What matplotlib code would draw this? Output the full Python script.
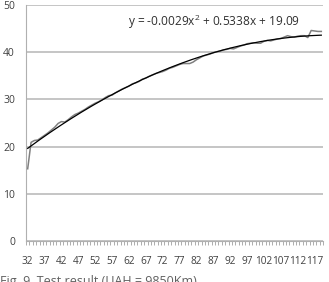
import numpy as np
import matplotlib
matplotlib.use("Agg")
import matplotlib.pyplot as plt

# categories
categories = list(range(32, 120))
# measured series
measured = [15.3, 20.9, 21.3, 21.4, 21.9, 22.4, 22.9, 23.5, 24.1, 24.9,
            25.3, 25.2, 25.7, 26.3, 26.8, 27.1, 27.5, 27.9, 28.4, 28.8,
            29.2, 29.5, 29.9, 30.4, 30.8, 30.9, 31.4, 31.8, 32.2, 32.5,
            32.8, 33.3, 33.5, 33.8, 34.3, 34.5, 34.9, 35.2, 35.5, 35.7,
            35.9, 36.2, 36.6, 36.8, 37.1, 37.4, 37.6, 37.6, 37.6, 37.9,
            38.4, 38.8, 39.2, 39.4, 39.6, 39.9, 40.1, 40.2, 40.5, 40.6,
            40.8, 40.7, 41.0, 41.3, 41.5, 41.8, 41.9, 42.0, 41.9, 41.9,
            42.3, 42.5, 42.4, 42.6, 42.8, 42.9, 43.2, 43.5, 43.3, 43.2,
            43.4, 43.5, 43.5, 43.1, 44.6, 44.5, 44.4, 44.4]
# trendline coefficients (from the chart's equation)
coef_a, coef_b, coef_c = -0.0029, 0.5338, 19.09
y_ticks = [0, 10, 20, 30, 40, 50]
label_every = 5
equation = "y = -0.0029x$^2$ + 0.5338x + 19.09"
caption = "Fig. 9. Test result (UAH = 9850Km)"

plt.rcParams['font.family'] = ['Open Sans', 'DejaVu Sans']
plt.rcParams['mathtext.fontset'] = 'custom'
plt.rcParams['mathtext.rm'] = 'Open Sans'

fig = plt.figure(figsize=(3.29, 2.82), dpi=100)
ax = fig.add_axes([26/329, 1-241/282, 297/329, 236/282])

n = len(categories)
idx = np.arange(1, n + 1)
ax.plot(idx, measured, color='#808080', lw=1.1, zorder=3)
xs = np.linspace(1, n, 300)
ax.plot(xs, coef_a * xs**2 + coef_b * xs + coef_c, color='black', lw=0.9, zorder=4)

ax.set_xlim(0.5, n + 0.5)
ax.set_ylim(0, 50)
ax.set_yticks(y_ticks)
ax.set_yticklabels([str(v) for v in y_ticks])
ax.yaxis.grid(True, color='#c0c0c0', lw=1.3)
ax.set_axisbelow(True)

lab_pos = idx[::label_every]
ax.set_xticks(lab_pos)
ax.set_xticklabels([str(categories[i-1]) for i in lab_pos])
ax.set_xticks(np.arange(0.5, n + 1, 1), minor=True)
ax.tick_params(axis='x', which='major', length=0, pad=11, labelsize=7.2, colors='#404040')
ax.tick_params(axis='x', which='minor', length=3, color='#a0a0a0', width=0.6)
ax.tick_params(axis='y', length=0, pad=8, labelsize=7.5, colors='#404040')

for s in ['top', 'right']:
    ax.spines[s].set_visible(False)
ax.spines['left'].set_color('#b0b0b0')
ax.spines['bottom'].set_color('#b0b0b0')

fig.text(128/329, 1-22/282, equation, fontsize=8.6, color='#303030', va='center', ha='left')
fig.text(0, 1-275/282, caption, fontsize=9, color='#606060', va='top', ha='left')

fig.savefig('out.png', dpi=100)
